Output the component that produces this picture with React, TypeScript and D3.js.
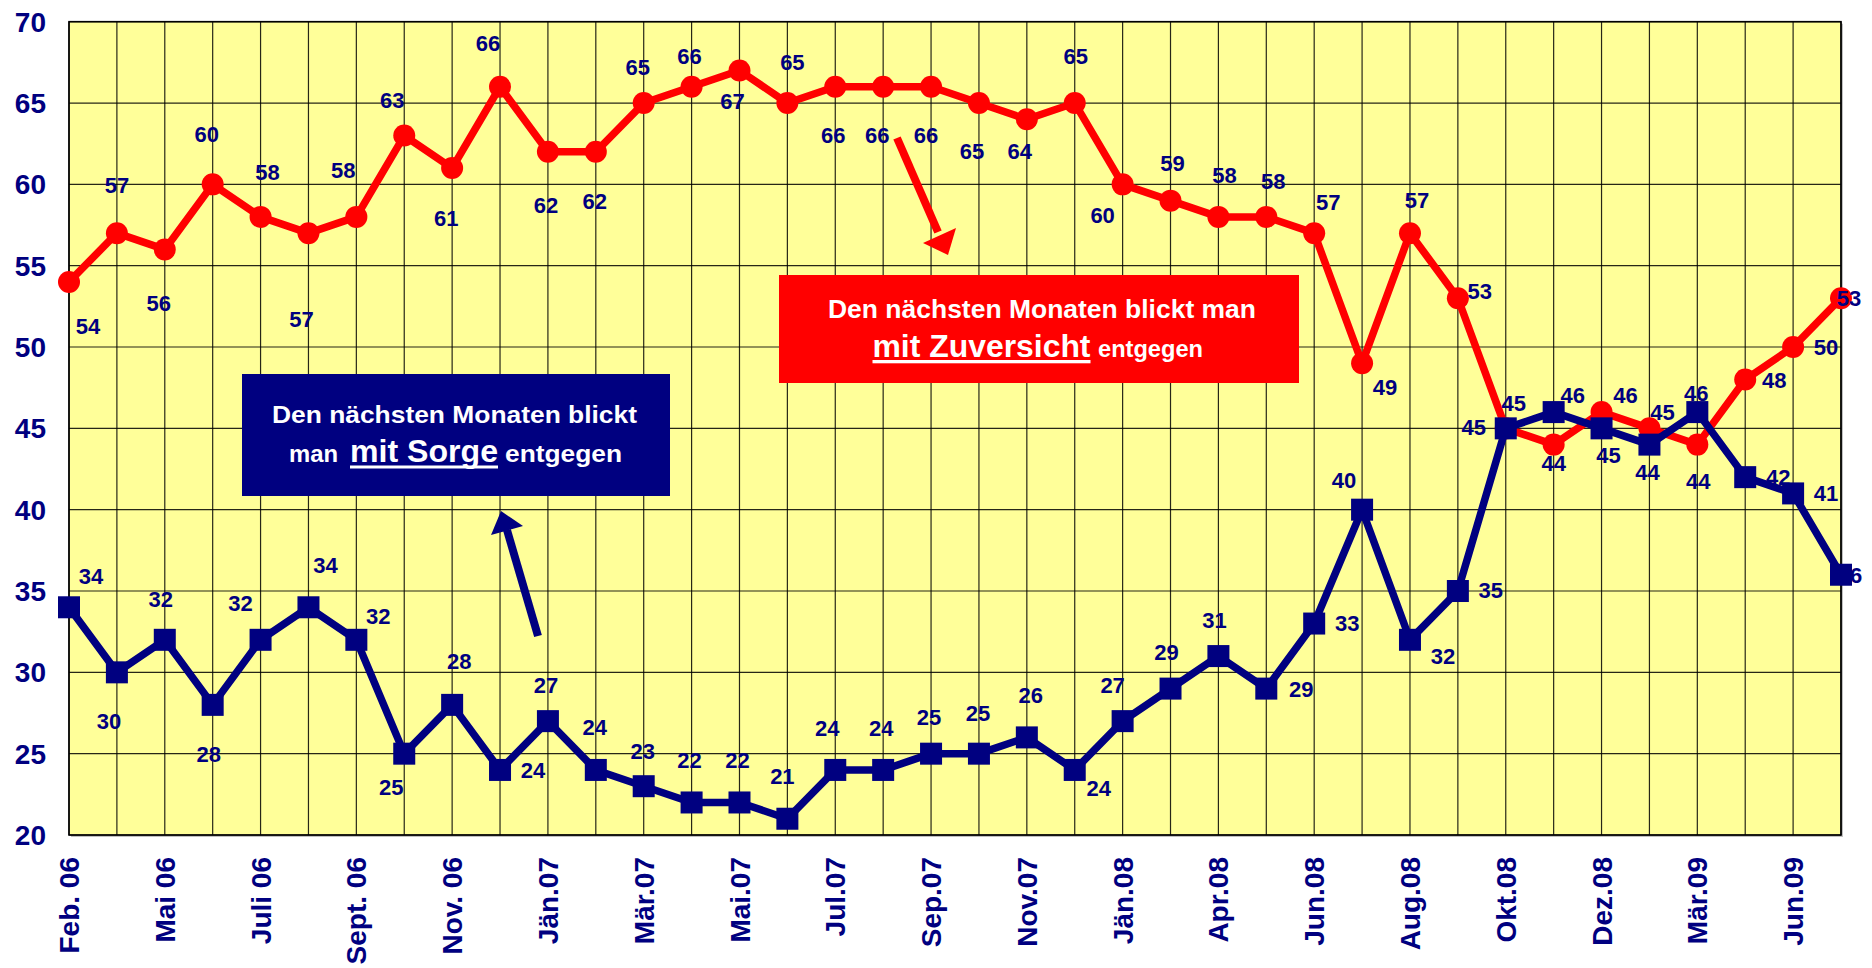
import React from "react";
import * as d3 from "d3";

// category labels (one every second point)
const tickLabels = [
  "Feb. 06", "Mai 06", "Juli 06", "Sept. 06", "Nov. 06", "Jän.07", "Mär.07",
  "Mai.07", "Jul.07", "Sep.07", "Nov.07", "Jän.08", "Apr.08", "Jun.08",
  "Aug.08", "Okt.08", "Dez.08", "Mär.09", "Jun.09",
];

// "mit Zuversicht"
const zuversicht = [
  54, 57, 56, 60, 58, 57, 58, 63, 61, 66, 62, 62, 65, 66, 67, 65, 66, 66, 66,
  65, 64, 65, 60, 59, 58, 58, 57, 49, 57, 53, 45, 44, 46, 45, 44, 48, 50, 53,
];

// "mit Sorge"
const sorge = [
  34, 30, 32, 28, 32, 34, 32, 25, 28, 24, 27, 24, 23, 22, 22, 21, 24, 24, 25,
  25, 26, 24, 27, 29, 31, 29, 33, 40, 32, 35, 45, 46, 45, 44, 46, 42, 41, 36,
];

const yTicks = [20, 25, 30, 35, 40, 45, 50, 55, 60, 65, 70];

// label placement (dx, dy from the point)
const redLabelPos = [
  [19, 44], [0, -48], [-6, 54], [-6, -50], [7, -45], [-7, 86], [-13, -47],
  [-12, -35], [-6, 50], [-12, -44], [-2, 53], [-1, 49], [-6, -36], [-2, -31],
  [-7, 31], [5, -41], [-2, 48], [-6, 48], [-5, 48], [-7, 48], [-7, 32],
  [1, -47], [-20, 31], [2, -38], [6, -42], [7, -36], [14, -31], [23, 24],
  [7, -33], [22, -7], [-32, -1], [0, 18], [24, -17], [13, -16], [1, 36],
  [29, 1], [33, 0], [8, 0],
];
const blueLabelPos = [
  [22, -31], [-8, 49], [-4, -41], [-4, 49], [-20, -37], [17, -42], [22, -24],
  [-13, 33], [7, -44], [33, 0], [-2, -36], [-1, -43], [-1, -35], [-2, -42],
  [-2, -42], [-5, -43], [-8, -42], [-2, -42], [-2, -37], [-1, -41], [4, -42],
  [24, 18], [-10, -36], [-4, -37], [-4, -36], [35, 0], [33, 0], [-18, -30],
  [33, 16], [33, -1], [8, -25], [19, -17], [7, 27], [-2, 27], [-1, -19],
  [33, 0], [33, 0], [9, 0],
];

const NAVY = "#000080";
const RED = "#FF0000";
const FONT = "Arial, 'Liberation Sans', sans-serif";

export default function App() {
  const left = 69, right = 1841, top = 21.7, bottom = 835;
  const idx = d3.range(zuversicht.length);
  const x = d3.scalePoint<number>().domain(idx).range([left, right]);
  const y = d3.scaleLinear().domain([20, 70]).range([bottom, top]);

  const line = d3
    .line<number>()
    .x((_, i) => x(i)!)
    .y((d) => y(d));

  return (
    <svg
      width={1872}
      height={968}
      style={{ position: "absolute", left: 0, top: 0, background: "#fff" }}
      fontFamily={FONT}
    >
      {/* plot area */}
      <rect x={left + 2} y={top + 2} width={right - left} height={bottom - top} fill="#c0c0c0" />
      <rect x={left} y={top} width={right - left} height={bottom - top} fill="#FFFF99" />
      <g stroke="#000" strokeWidth={1.2} strokeOpacity={0.85}>
        {idx.map((i) => (
          <line key={"v" + i} x1={x(i)} x2={x(i)} y1={top} y2={bottom} />
        ))}
        {yTicks.map((t) => (
          <line key={"h" + t} x1={left} x2={right} y1={y(t)} y2={y(t)} />
        ))}
      </g>
      <rect x={left} y={top} width={right - left} height={bottom - top} fill="none" stroke="#000" strokeWidth={1.6} />

      {/* y axis labels */}
      {yTicks.map((t) => (
        <text key={t} x={46} y={y(t)} dy="0.36em" textAnchor="end" fontSize={28} fontWeight="bold" fill={NAVY}>
          {t}
        </text>
      ))}

      {/* x axis labels */}
      {tickLabels.map((l, k) => (
        <text
          key={l}
          transform={`translate(${x(k * 2)},857) rotate(-90)`}
          dy="0.36em"
          textAnchor="end"
          fontSize={28}
          fontWeight="bold"
          fill={NAVY}
        >
          {l}
        </text>
      ))}

      {/* annotations */}
      <rect x={779} y={275} width={520} height={108} fill={RED} />
      <g fill="#fff" fontWeight="bold">
        <text x={828} y={318} fontSize={25} textLength={428} lengthAdjust="spacingAndGlyphs">
          Den nächsten Monaten blickt man
        </text>
        <text x={872.5} y={356.5} fontSize={31} textLength={218} lengthAdjust="spacingAndGlyphs">
          mit Zuversicht
        </text>
        <text x={1098} y={356.5} fontSize={24} textLength={105} lengthAdjust="spacingAndGlyphs">
          entgegen
        </text>
        <rect x={872.5} y={360} width={218} height={3.3} />
      </g>

      <rect x={242} y={374} width={428} height={122} fill={NAVY} />
      <g fill="#fff" fontWeight="bold">
        <text x={272} y={422.5} fontSize={24} textLength={365} lengthAdjust="spacingAndGlyphs">
          Den nächsten Monaten blickt
        </text>
        <text x={289} y={461.5} fontSize={24} textLength={49} lengthAdjust="spacingAndGlyphs">
          man
        </text>
        <text x={350} y={461.5} fontSize={31} textLength={148} lengthAdjust="spacingAndGlyphs">
          mit Sorge
        </text>
        <text x={505} y={461.5} fontSize={24} textLength={117} lengthAdjust="spacingAndGlyphs">
          entgegen
        </text>
        <rect x={350} y={465.5} width={148} height={3} />
      </g>

      {/* arrows */}
      <line x1={897} y1={138} x2={938} y2={232} stroke={RED} strokeWidth={8} />
      <polygon points="948,255 923,243 956,228" fill={RED} />
      <line x1={538} y1={636} x2={507} y2={530} stroke={NAVY} strokeWidth={8} />
      <polygon points="501,511 491,535 523,526" fill={NAVY} />

      {/* red series */}
      <path d={line(zuversicht) ?? ""} fill="none" stroke={RED} strokeWidth={7.5} strokeLinejoin="round" />
      {zuversicht.map((v, i) => (
        <circle key={"rc" + i} cx={x(i)} cy={y(v)} r={11} fill={RED} />
      ))}

      {/* blue series */}
      <path d={line(sorge) ?? ""} fill="none" stroke={NAVY} strokeWidth={7.5} strokeLinejoin="round" />
      {sorge.map((v, i) => (
        <rect key={"bs" + i} x={x(i)! - 11} y={y(v) - 11} width={22} height={22} fill={NAVY} />
      ))}

      {/* data labels */}
      <g fontSize={22} fontWeight="bold" fill={NAVY} textAnchor="middle">
        {zuversicht.map((v, i) => (
          <text key={"rl" + i} x={x(i)! + redLabelPos[i][0]} y={y(v) + redLabelPos[i][1]} dy="0.36em">
            {v}
          </text>
        ))}
        {sorge.map((v, i) => (
          <text key={"bl" + i} x={x(i)! + blueLabelPos[i][0]} y={y(v) + blueLabelPos[i][1]} dy="0.36em">
            {v}
          </text>
        ))}
      </g>
    </svg>
  );
}
